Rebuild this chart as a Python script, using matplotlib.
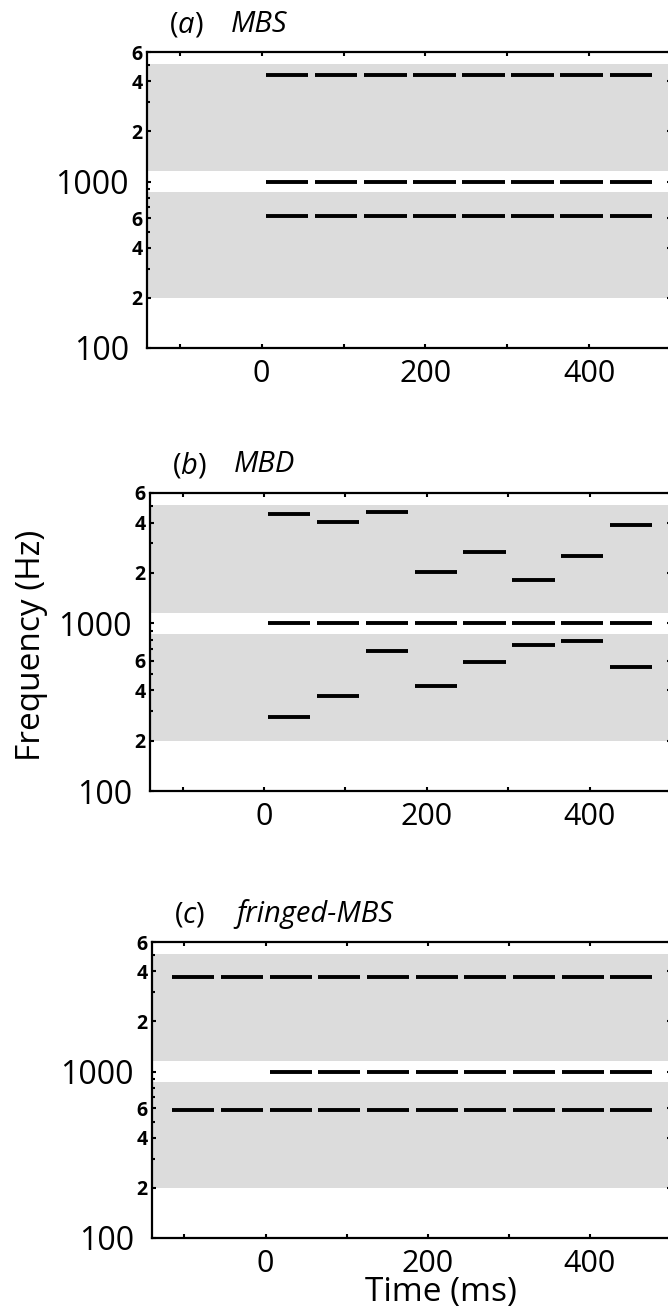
import matplotlib
matplotlib.use("Agg")
import matplotlib.pyplot as plt
import numpy as np

plt.rcParams['font.family'] = ['Open Sans', 'DejaVu Sans']
plt.rcParams['mathtext.fontset'] = 'custom'
plt.rcParams['mathtext.rm'] = 'Open Sans'
plt.rcParams['mathtext.it'] = 'Open Sans:italic'

# burst timing (ms)
onsets = [5, 65, 125, 185, 245, 305, 365, 425]
fringe_onsets = [-115, -55]
burst_dur = 52

# target frequency (Hz)
target = 1000

# (a) MBS: fixed masker frequencies
mbs_upper = 4350
mbs_lower = 620

# (b) MBD: masker frequency changes every burst
mbd_upper = [4520, 4015, 4630, 2035, 2657, 1807, 2515, 3890]
mbd_lower = [275, 370, 680, 426, 590, 739, 780, 551]

# (c) fringed-MBS
fr_upper = 3700
fr_lower = 590

# masker bands (Hz)
bands = [(200, 870), (1150, 5100)]

yticks = [100, 200, 400, 600, 1000, 2000, 4000, 6000]
yticklabels = ['100', '2', '4', '6', '1000', '2', '4', '6']
yminor = [300, 500, 700, 800, 900, 3000, 5000]

panel_ids = ['a', 'b', 'c']
panel_names = ['MBS', 'MBD', 'fringed-MBS']

W, H = 668, 1316
fig = plt.figure(figsize=(W / 100, H / 100), dpi=100)

# axes boxes in pixels: left, top, bottom (right spine sits just off the page)
boxes = [(147, 52, 348), (150, 493, 791), (152, 942, 1238)]
right_px = 671

axes = []
for (l, t, b) in boxes:
    ax = fig.add_axes([l / W, 1 - b / H, (right_px - l) / W, (b - t) / H])
    axes.append(ax)

GRAY = '#dcdcdc'
LW = 2.8


def bursts(ax, times, freq):
    times = np.asarray(times, dtype=float)
    freq = np.broadcast_to(np.asarray(freq, dtype=float), times.shape)
    ax.hlines(freq, times, times + burst_dur, colors='black', lw=LW)


for i, ax in enumerate(axes):
    ax.set_yscale('log')
    ax.set_ylim(100, 6000)
    ax.set_xlim(-140, 500)
    for lo, hi in bands:
        ax.axhspan(lo, hi, color=GRAY, lw=0, zorder=0)

    ax.set_xticks([0, 200, 400])
    ax.set_xticks([-100, 100, 300], minor=True)
    ax.set_yticks(yticks)
    ax.set_yticklabels(yticklabels)
    ax.set_yticks(yminor, minor=True)
    ax.yaxis.set_minor_formatter(plt.NullFormatter())

    ax.tick_params(which='both', direction='in', top=True, right=True,
                   width=1.5, length=3)
    ax.tick_params(axis='x', labelsize=22, pad=8)
    ax.tick_params(axis='y', which='minor', length=2)
    for tk, lab in zip(ax.yaxis.get_major_ticks(), yticklabels):
        if len(lab) > 1:
            tk.label1.set_fontsize(23)
            tk.set_pad(13)
        else:
            tk.label1.set_fontsize(14)
            tk.label1.set_fontweight('bold')
            tk.set_pad(3)
    for s in ax.spines.values():
        s.set_linewidth(1.6)

    l, t, b = boxes[i]
    fig.text((l + 22) / W, 1 - (t - 27) / H, rf'($\it{{{panel_ids[i]}}}$)',
             fontsize=21, va='center', ha='left')
    fig.text((l + 84) / W, 1 - (t - 28) / H, panel_names[i],
             fontsize=21, style='italic', va='center', ha='left')

# (a) MBS
ax = axes[0]
bursts(ax, onsets, mbs_upper)
bursts(ax, onsets, target)
bursts(ax, onsets, mbs_lower)

# (b) MBD
ax = axes[1]
bursts(ax, onsets, mbd_upper)
bursts(ax, onsets, target)
bursts(ax, onsets, mbd_lower)

# (c) fringed-MBS: maskers start two bursts before the target
ax = axes[2]
bursts(ax, fringe_onsets + onsets, fr_upper)
bursts(ax, onsets, target)
bursts(ax, fringe_onsets + onsets, fr_lower)

fig.text(32 / W, 1 - 645 / H, 'Frequency (Hz)', rotation=90, fontsize=24,
         va='center', ha='center')
fig.text(441 / W, 1 - 1293 / H, 'Time (ms)', fontsize=24,
         va='center', ha='center')

plt.savefig('out.png', dpi=100)
